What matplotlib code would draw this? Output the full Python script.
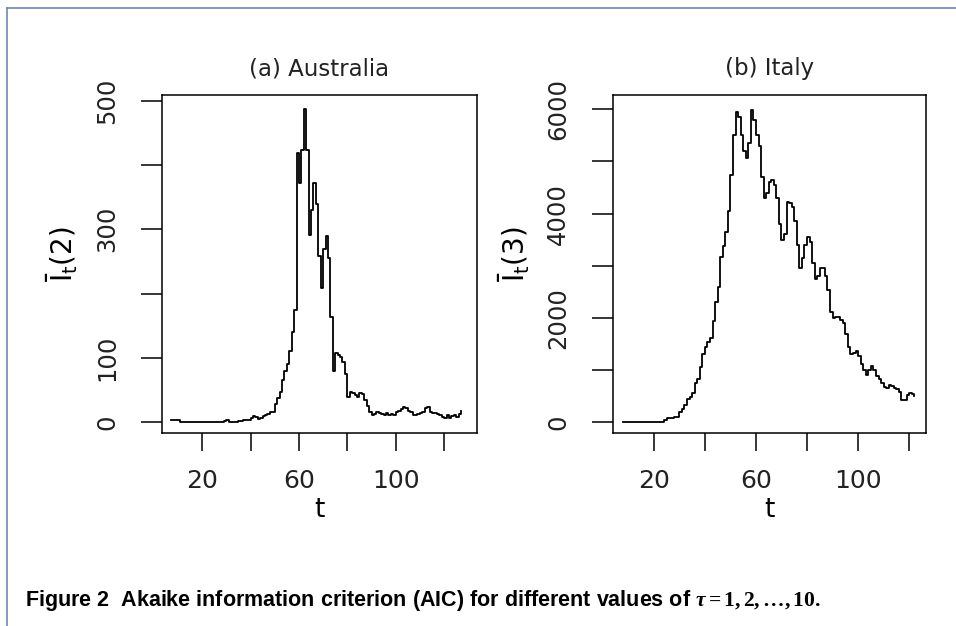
import matplotlib
matplotlib.use("Agg")
import matplotlib.pyplot as plt
from matplotlib.lines import Line2D

# Australia, t = 7..127
aus_t = list(range(7, 128))
aus_val = [3, 3, 3, 3, 0, 0, 0, 0, 0, 0, 0, 0, 0, 0, 0, 0, 0, 0, 0, 0, 0, 0,
           2, 3, 0, 0, 0, 0, 1, 2, 3, 3, 4, 6, 9, 8, 5, 7, 9, 11, 13, 15, 16,
           28, 38, 47, 65, 80, 90, 110, 140, 174, 418, 372, 423, 487, 423, 291,
           330, 372, 340, 258, 208, 270, 290, 255, 164, 80, 107, 104, 102, 94,
           75, 39, 47, 45, 42, 39, 45, 43, 35, 25, 16, 11, 13, 15, 14, 12, 11,
           14, 11, 12, 11, 16, 18, 21, 24, 22, 18, 16, 11, 11, 13, 14, 16, 22,
           24, 16, 14, 14, 12, 11, 8, 6, 11, 6, 10, 11, 8, 13, 17]

# Italy, t = 8..122
ita_t = list(range(8, 123))
ita_val = [0] * 16 + [50, 77, 80, 85, 100, 110, 195, 260, 340, 440, 490, 560,
           750, 830, 1067, 1300, 1450, 1530, 1610, 1950, 2300, 2600, 3176,
           3380, 3650, 4050, 4750, 5500, 5950, 5850, 5500, 5200, 5060, 5350,
           5990, 5800, 5500, 5300, 4700, 4300, 4400, 4600, 4650, 4550, 4300,
           3800, 3500, 3600, 4230, 4200, 4120, 3850, 3400, 2950, 3150, 3400,
           3550, 3450, 3050, 2750, 2800, 2950, 2950, 2800, 2540, 2120, 2000,
           2010, 2020, 1960, 1900, 1700, 1450, 1300, 1330, 1370, 1270, 1120,
           1000, 900, 1000, 1080, 1000, 890, 830, 750, 680, 660, 710, 690, 665,
           640, 580, 430, 420, 520, 560, 540, 505]

x_ticks = [20, 40, 60, 80, 100, 120]
x_labels = ["20", "", "60", "", "100", ""]
aus_yticks = [0, 100, 200, 300, 400, 500]
aus_ylabels = ["0", "100", "", "300", "", "500"]
ita_yticks = [0, 1000, 2000, 3000, 4000, 5000, 6000]
ita_ylabels = ["0", "", "2000", "", "4000", "", "6000"]

plt.rcParams["font.family"] = ["DejaVu Sans"]
plt.rcParams["mathtext.fontset"] = "custom"
plt.rcParams["mathtext.rm"] = "DejaVu Sans"
plt.rcParams["mathtext.sf"] = "DejaVu Sans"
plt.rcParams["mathtext.it"] = "Liberation Serif:italic:bold"
plt.rcParams["mathtext.bf"] = "Liberation Serif:bold"

fig = plt.figure(figsize=(9.56, 6.26), dpi=100)
ax1 = fig.add_axes([162 / 956, 1 - 433 / 626, 315 / 956, 338 / 626])
ax2 = fig.add_axes([613 / 956, 1 - 433 / 626, 313 / 956, 338 / 626])


def style_panel(ax, t, vals, title, ylab, yticks, ylabels, xlim, ylim):
    ax.plot(t, vals, color="black", lw=1.3, drawstyle="steps-post")
    ax.set_xlim(*xlim)
    ax.set_ylim(*ylim)
    ax.set_xticks(x_ticks)
    ax.set_xticklabels(x_labels, fontsize=18, color="#222222")
    ax.set_yticks(yticks)
    ax.set_yticklabels(ylabels, fontsize=17.5, color="#222222",
                       rotation=90, va="center")
    ax.tick_params(axis="x", length=13, width=1.1, pad=13)
    ax.tick_params(axis="y", length=15, width=1.1, pad=16)
    for s in ax.spines.values():
        s.set_linewidth(1.1)
    ax.text(0.5, 1.077, title, transform=ax.transAxes, ha="center",
            va="center", fontsize=16.5, color="#222222")
    ax.set_xlabel("t", fontsize=19)
    ax.xaxis.set_label_coords(0.5, -0.19)
    ax.set_ylabel(ylab, fontsize=20)
    ax.yaxis.set_label_coords(-0.26, 0.53)


style_panel(ax1, aus_t, aus_val, "(a) Australia", r"$\mathrm{\bar{I}_t(2)}$",
            aus_yticks, aus_ylabels, (3.4, 133.6), (-17, 509))
style_panel(ax2, ita_t, ita_val, "(b) Italy", r"$\mathrm{\bar{I}_t(3)}$",
            ita_yticks, ita_ylabels, (4, 126.6), (-205, 6274))

# page frame
fig.add_artist(Line2D([7.3 / 956, 1], [1 - 8.3 / 626, 1 - 8.3 / 626],
                      color="#7089ad", lw=1.2, transform=fig.transFigure))
fig.add_artist(Line2D([7.3 / 956, 7.3 / 956], [0, 1 - 8.3 / 626],
                      color="#7089ad", lw=1.2, transform=fig.transFigure))

fig.text(25 / 956, 1 - 606 / 626,
         r"Figure 2  Akaike information criterion (AIC) for different values of "
         r"$\tau\mathbf{=1,2,\ldots,10.}$",
         fontsize=15.5, fontweight="bold", va="baseline",
         family=["Liberation Sans"])

fig.savefig("out.png", dpi=100)
